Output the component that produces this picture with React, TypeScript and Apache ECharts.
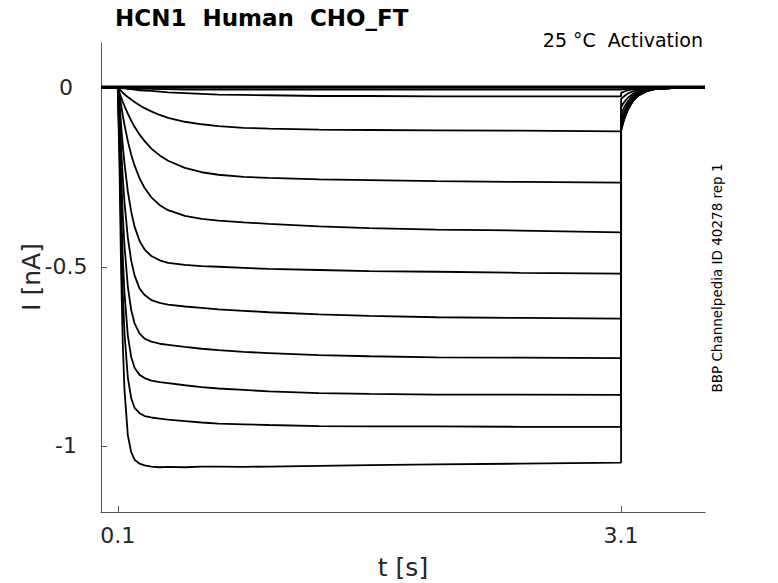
import React, { useEffect, useRef } from "react";
import * as echarts from "echarts";

// time points in seconds (pulse 0.1–3.1 s, then tail)
const timeS = [
  0, 0.1, 0.11, 0.12, 0.13, 0.14, 0.16, 0.18, 0.2, 0.23, 0.26, 0.3, 0.35, 0.4,
  0.5, 0.6, 0.7, 0.85, 1.0, 1.3, 1.6, 2.0, 2.5, 3.1,
  3.1, 3.11, 3.12, 3.14, 3.17, 3.2, 3.25, 3.3, 3.4, 3.6,
];

// currents in nA, one array per sweep
const sweep01 = [
  0.004, 0.004, 0.004, 0.004, 0.004, 0.004, 0.004, 0.004, 0.004, 0.004, 0.004, 0.004, 0.004, 0.004,
  0.004, 0.004, 0.004, 0.004, 0.004, 0.004, 0.004, 0.004, 0.004, 0.004,
  0.004, 0.004, 0.004, 0.004, 0.004, 0.004, 0.004, 0.004, 0.004, 0.004,
];
const sweep02 = [
  0, 0, 0, 0, 0, 0, 0, 0, 0, 0, 0, 0, 0, 0,
  0, 0, 0, 0, 0, 0, 0, 0, 0, 0,
  0, 0, 0, 0, 0, 0, 0, 0, 0, 0,
];
const sweep03 = [
  0, 0, -0.001, -0.001, -0.001, -0.001, -0.002, -0.002, -0.002, -0.003, -0.003, -0.003, -0.004, -0.004,
  -0.005, -0.005, -0.005, -0.005, -0.005, -0.005, -0.005, -0.005, -0.005, -0.005,
  -0.005, -0.004, -0.004, -0.003, -0.002, -0.002, -0.001, -0.001, 0, 0,
];
const sweep04 = [
  0, 0, -0.001, -0.001, -0.002, -0.002, -0.003, -0.004, -0.005, -0.007, -0.008, -0.009, -0.011, -0.013,
  -0.015, -0.017, -0.019, -0.02, -0.021, -0.023, -0.023, -0.024, -0.024, -0.024,
  -0.014, -0.012, -0.01, -0.007, -0.004, -0.003, -0.001, 0, 0, 0,
];
const sweep05 = [
  0, 0, -0.005, -0.009, -0.014, -0.018, -0.026, -0.033, -0.04, -0.049, -0.057, -0.066, -0.076, -0.084,
  -0.095, -0.102, -0.107, -0.112, -0.114, -0.117, -0.118, -0.119, -0.12, -0.122,
  -0.032, -0.027, -0.023, -0.016, -0.01, -0.006, -0.003, -0.001, 0, 0,
];
const sweep06 = [
  0, 0, -0.014, -0.027, -0.04, -0.051, -0.072, -0.092, -0.109, -0.131, -0.149, -0.17, -0.189, -0.204,
  -0.224, -0.236, -0.243, -0.249, -0.252, -0.256, -0.258, -0.261, -0.263, -0.265,
  -0.054, -0.046, -0.039, -0.028, -0.017, -0.01, -0.004, -0.002, 0, 0,
];
const sweep07 = [
  0, 0, -0.018, -0.049, -0.078, -0.104, -0.149, -0.187, -0.217, -0.253, -0.28, -0.306, -0.328, -0.342,
  -0.358, -0.366, -0.371, -0.376, -0.38, -0.387, -0.392, -0.396, -0.399, -0.404,
  -0.074, -0.063, -0.053, -0.038, -0.023, -0.014, -0.006, -0.003, -0.001, 0,
];
const sweep08 = [
  0, 0, -0.038, -0.106, -0.163, -0.211, -0.29, -0.346, -0.388, -0.428, -0.452, -0.47, -0.482, -0.489,
  -0.495, -0.498, -0.5, -0.503, -0.506, -0.509, -0.512, -0.514, -0.517, -0.519,
  -0.09, -0.076, -0.065, -0.046, -0.028, -0.017, -0.007, -0.003, -0.001, 0,
];
const sweep09 = [
  0, 0, -0.063, -0.168, -0.253, -0.32, -0.419, -0.483, -0.524, -0.561, -0.579, -0.593, -0.601, -0.606,
  -0.611, -0.615, -0.619, -0.623, -0.627, -0.633, -0.637, -0.641, -0.643, -0.645,
  -0.102, -0.086, -0.073, -0.052, -0.032, -0.019, -0.008, -0.004, -0.001, 0,
];
const sweep10 = [
  0, 0, -0.093, -0.245, -0.357, -0.442, -0.556, -0.621, -0.658, -0.687, -0.701, -0.709, -0.715, -0.718,
  -0.724, -0.729, -0.733, -0.738, -0.741, -0.747, -0.75, -0.753, -0.754, -0.755,
  -0.11, -0.093, -0.079, -0.056, -0.034, -0.021, -0.009, -0.004, -0.001, 0,
];
const sweep11 = [
  0, 0, -0.132, -0.334, -0.475, -0.573, -0.693, -0.752, -0.782, -0.802, -0.811, -0.818, -0.822, -0.825,
  -0.831, -0.836, -0.84, -0.844, -0.848, -0.853, -0.855, -0.857, -0.857, -0.858,
  -0.115, -0.097, -0.082, -0.059, -0.036, -0.022, -0.009, -0.004, -0.001, 0,
];
const sweep12 = [
  0, 0, -0.165, -0.41, -0.575, -0.685, -0.81, -0.867, -0.894, -0.909, -0.917, -0.921, -0.924, -0.927,
  -0.931, -0.935, -0.938, -0.94, -0.942, -0.945, -0.946, -0.946, -0.947, -0.947,
  -0.118, -0.1, -0.085, -0.061, -0.037, -0.022, -0.01, -0.004, -0.001, 0,
];
const sweep13 = [
  0, 0, -0.211, -0.517, -0.717, -0.844, -0.971, -1.018, -1.039, -1.05, -1.055, -1.058, -1.06, -1.059,
  -1.06, -1.058, -1.058, -1.059, -1.058, -1.056, -1.054, -1.052, -1.05, -1.047,
  -0.12, -0.102, -0.086, -0.062, -0.037, -0.023, -0.01, -0.004, -0.001, 0,
];

const sweeps = [
  sweep01, sweep02, sweep03, sweep04, sweep05, sweep06, sweep07,
  sweep08, sweep09, sweep10, sweep11, sweep12, sweep13,
];

const xTickValues = [0.1, 3.1];
const yTickValues = [-1, -0.5, 0];

export default function App() {
  const ref = useRef<HTMLDivElement>(null);

  useEffect(() => {
    if (!ref.current) return;
    const chart = echarts.init(ref.current, null, { renderer: "svg" });
    const font = '"DejaVu Sans", sans-serif';
    const axisColor = "#555555";
    const labelColor = "#262626";

    chart.setOption({
      animation: false,
      backgroundColor: "#ffffff",
      grid: { left: 101, top: 43, right: 73, bottom: 71, containLabel: false },
      xAxis: {
        type: "value",
        min: 0,
        max: 3.6,
        axisLine: { show: true, onZero: false, lineStyle: { color: axisColor, width: 1 } },
        axisTick: {
          show: true,
          inside: true,
          length: 6,
          customValues: xTickValues,
          lineStyle: { color: axisColor, width: 1 },
        },
        axisLabel: {
          customValues: xTickValues,
          margin: 12,
          fontSize: 22,
          fontFamily: font,
          color: labelColor,
          formatter: (v: number) => String(v),
        },
        splitLine: { show: false },
      },
      yAxis: {
        type: "value",
        min: -1.185,
        max: 0.125,
        axisLine: { show: true, onZero: false, lineStyle: { color: axisColor, width: 1 } },
        axisTick: {
          show: true,
          inside: true,
          length: 6,
          customValues: yTickValues,
          lineStyle: { color: axisColor, width: 1 },
        },
        axisLabel: {
          customValues: yTickValues,
          margin: 35,
          align: "center",
          fontSize: 22,
          fontFamily: font,
          color: labelColor,
          formatter: (v: number) => String(v),
        },
        splitLine: { show: false },
      },
      series: sweeps.map((s, k) => ({
        name: "sweep" + (k + 1),
        type: "line",
        data: s.map((v, i) => [timeS[i], v]),
        showSymbol: false,
        symbol: "none",
        silent: true,
        lineStyle: { color: "#000000", width: 1.8 },
      })),
      graphic: [
        {
          type: "text",
          x: 115,
          y: 18,
          style: {
            text: "HCN1  Human  CHO_FT",
            fontSize: 23,
            fontWeight: "bold",
            fontFamily: font,
            fill: "#000000",
            align: "left",
            verticalAlign: "middle",
          },
        },
        {
          type: "text",
          x: 703,
          y: 40,
          style: {
            text: "25 °C  Activation",
            fontSize: 19,
            fontFamily: font,
            fill: "#000000",
            align: "right",
            verticalAlign: "middle",
          },
        },
        {
          type: "text",
          x: 403,
          y: 567,
          style: {
            text: "t [s]",
            fontSize: 25,
            fontFamily: font,
            fill: labelColor,
            align: "center",
            verticalAlign: "middle",
          },
        },
        {
          type: "text",
          x: 31,
          y: 277,
          rotation: Math.PI / 2,
          style: {
            text: "I [nA]",
            fontSize: 25,
            fontFamily: font,
            fill: labelColor,
            align: "center",
            verticalAlign: "middle",
          },
        },
        {
          type: "text",
          x: 717,
          y: 278,
          rotation: Math.PI / 2,
          style: {
            text: "BBP Channelpedia ID 40278 rep 1",
            fontSize: 13.5,
            fontFamily: font,
            fill: "#000000",
            align: "center",
            verticalAlign: "middle",
          },
        },
      ],
    });

    return () => chart.dispose();
  }, []);

  return (
    <div
      ref={ref}
      style={{ position: "fixed", left: 0, top: 0, width: 778, height: 583 }}
    />
  );
}
